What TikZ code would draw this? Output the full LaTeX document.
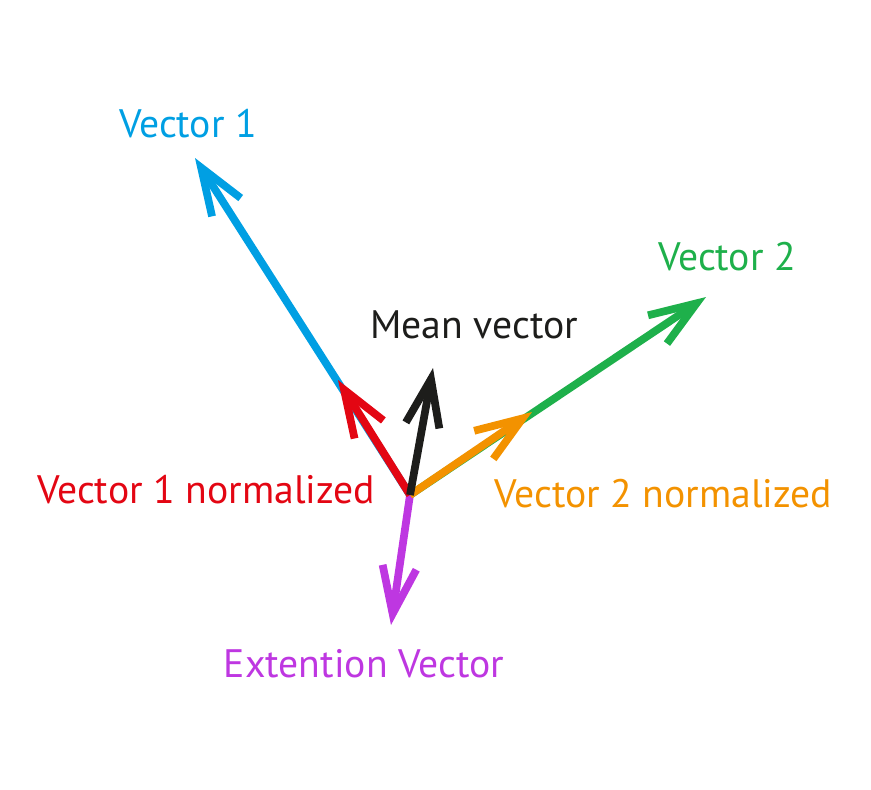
\documentclass[tikz,border=0pt]{standalone}
\usepackage{fontspec}
\setmainfont{PT Sans}
\usetikzlibrary{arrows.meta}
\definecolor{vecblue}{RGB}{0,159,227}
\definecolor{vecred}{RGB}{227,6,19}
\definecolor{vecgreen}{RGB}{30,176,75}
\definecolor{vecorange}{RGB}{243,146,0}
\definecolor{vecpurple}{RGB}{190,55,225}
\definecolor{vecblack}{RGB}{29,29,27}
\tikzset{
	vecline/.style={line width=4.4pt, -{Straight Barb[length=9.4mm, width=6.8mm, line join=miter, line cap=butt]}},
	veclabel/.style={anchor=base, font=\fontsize{22.6}{27}\selectfont, inner sep=0pt}
}
\begin{document}
\begin{tikzpicture}[x=0.02cm, y=-0.02cm]
			\useasboundingbox (0,0) rectangle (871,789);

			% Origin and tips
			\coordinate (o) at (410,495);
			\coordinate (v1n) at (338,380);
			\coordinate (v1) at (195,158);
			\coordinate (v2n) at (532,412);
			\coordinate (v2) at (706,297);
			\coordinate (mean) at (433,368);
			\coordinate (ext) at (391,625);

			% Long vectors
			\draw[vecline, vecblue] (o) -- (v1);
			\draw[vecline, vecgreen] (o) -- (v2);

			% Extension vector
			\draw[vecline, vecpurple] (o) -- (ext);

			% Normalized vectors
			\draw[vecline, vecred] (o) -- (v1n);
			\draw[vecline, vecorange] (o) -- (v2n);

			% Mean vector
			\draw[vecline, vecblack] (o) -- (mean);

			% Labels
			\node[veclabel, vecblue] (lv1) at (188,137) {Vector 1};
			\node[veclabel, vecgreen] (lv2) at (727,270) {Vector 2};
			\node[veclabel, vecblack] (lmean) at (474,338) {Mean vector};
			\node[veclabel, vecred] (lv1n) at (206,503) {Vector 1 normalized};
			\node[veclabel, vecorange] (lv2n) at (663,507) {Vector 2 normalized};
			\node[veclabel, vecpurple] (lext) at (364,677) {Extention Vector};
\end{tikzpicture}
\end{document}
